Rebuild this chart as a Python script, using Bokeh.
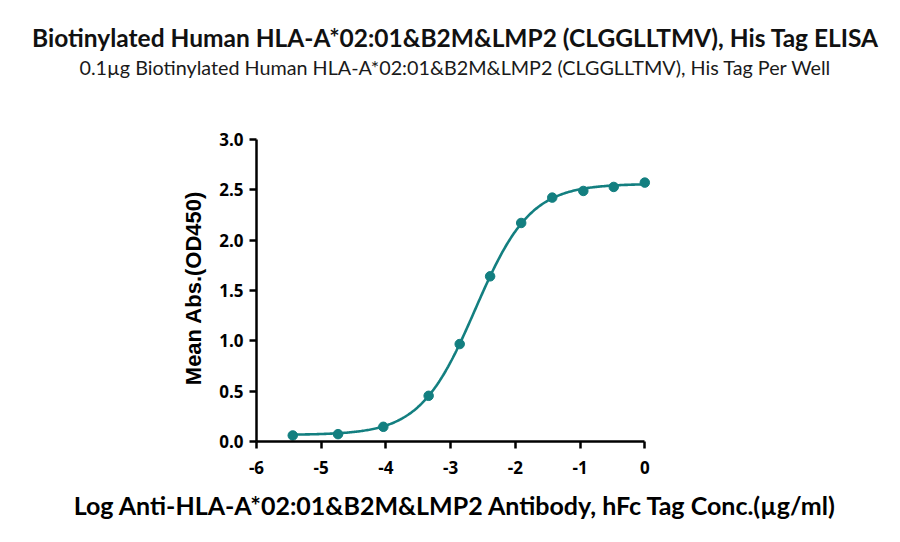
import numpy as np
from bokeh.plotting import figure
from bokeh.models import Title, Range1d, FixedTicker
from bokeh.embed import file_html
from bokeh.resources import INLINE

# Data (log10 concentration, mean OD450)
log_conc = [-5.44, -4.74, -4.04, -3.34, -2.86, -2.39, -1.91, -1.43, -0.95, -0.48, 0.0]
od450 = [0.06, 0.073, 0.146, 0.454, 0.968, 1.641, 2.171, 2.423, 2.489, 2.529, 2.572]

# 4PL fit parameters (estimated from the fitted curve)
fit_bottom = 0.065
fit_top = 2.56
fit_logec50 = -2.62
fit_hill = 1.02

x_ticks = [-6, -5, -4, -3, -2, -1, 0]
y_ticks = [0.0, 0.5, 1.0, 1.5, 2.0, 2.5, 3.0]

title_text = "Biotinylated Human HLA-A*02:01&B2M&LMP2 (CLGGLLTMV), His Tag ELISA"
subtitle_text = "0.1\u00b5g Biotinylated Human HLA-A*02:01&B2M&LMP2 (CLGGLLTMV), His Tag Per Well"
x_label = "Log Anti-HLA-A*02:01&B2M&LMP2 Antibody, hFc Tag Conc.(\u00b5g/ml)"
y_label = "Mean Abs.(OD450)"

teal = "#137f80"

p = figure(output_backend="svg", toolbar_location=None,
           x_range=Range1d(-6, 0.15), y_range=Range1d(0, 3.05),
           frame_width=398, frame_height=307,
           min_border_left=256, min_border_right=230, min_border_top=134, min_border_bottom=85)
p.title = None
# spacer between plot frame and subtitle
p.add_layout(Title(text=" ", text_font_size="10px", standoff=43), "above")
p.add_layout(Title(text=subtitle_text, align="center", text_font="Lato",
                   text_font_size="19.75px", text_font_style="normal", text_color="#1a1a1a",
                   standoff=0), "above")
p.add_layout(Title(text=title_text, align="center", text_font="Lato",
                   text_font_size="24.5px", text_font_style="bold", text_color="#111111",
                   standoff=4), "above")

xs = np.linspace(-5.44, 0.0, 300)
ys = fit_bottom + (fit_top - fit_bottom) / (1 + 10 ** ((fit_logec50 - xs) * fit_hill))
p.line(xs, ys, line_color=teal, line_width=2.6)
p.scatter(log_conc, od450, size=9.5, fill_color=teal, line_color=teal)

p.grid.visible = False
p.outline_line_color = None

for ax in (p.xaxis[0], p.yaxis[0]):
    ax.axis_line_width = 2.5
    ax.axis_line_color = "black"
    ax.major_tick_line_width = 2.5
    ax.major_tick_line_color = "black"
    ax.major_tick_out = 7
    ax.major_tick_in = 0
    ax.minor_tick_line_color = None
    ax.major_label_text_font = "Open Sans"
    ax.major_label_text_font_style = "bold"
    ax.major_label_text_font_size = "17px"
    ax.major_label_text_color = "black"
    ax.axis_label_text_color = "black"

p.xaxis.ticker = FixedTicker(ticks=x_ticks)
p.yaxis.ticker = FixedTicker(ticks=y_ticks)
p.xaxis.bounds = (-6, 0)
p.yaxis.bounds = (0, 3)
p.xaxis.major_label_overrides = {t: str(t) for t in x_ticks}
p.yaxis.major_label_overrides = {t: f"{t:.1f}" for t in y_ticks}
p.xaxis.major_label_standoff = 12
p.yaxis.major_label_standoff = 6

p.xaxis.axis_label = x_label
p.xaxis.axis_label_text_font = "Lato"
p.xaxis.axis_label_text_font_style = "bold"
p.xaxis.axis_label_text_font_size = "25px"
p.xaxis.axis_label_standoff = 13

p.yaxis.axis_label = y_label
p.yaxis.axis_label_text_font = "Liberation Sans"
p.yaxis.axis_label_text_font_style = "bold"
p.yaxis.axis_label_text_font_size = "22px"
p.yaxis.axis_label_standoff = 10

open("out.html", "w").write(file_html(p, INLINE))
